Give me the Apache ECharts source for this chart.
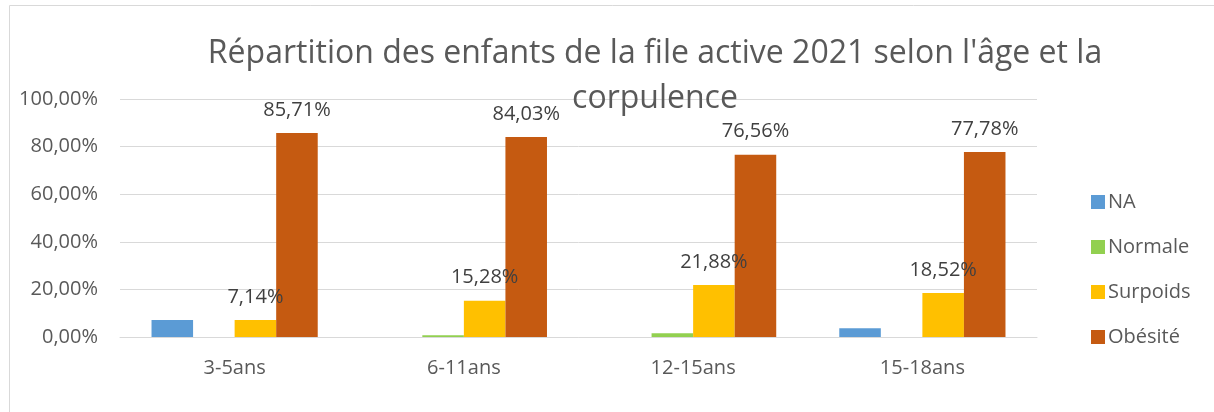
<!DOCTYPE html>
<html>
<head>
<meta charset="utf-8">
<script src="https://cdn.jsdelivr.net/npm/echarts@6/dist/echarts.min.js"></script>
<style>
  html, body { margin: 0; padding: 0; background: #fff; }
  #chart { width: 1214px; height: 412px; }
</style>
</head>
<body>
<div id="chart"></div>
<script>
  var categories = ['3-5ans', '6-11ans', '12-15ans', '15-18ans'];
  var naData = [7.14, 0, 0, 3.70];
  var normaleData = [0, 0.69, 1.56, 0];
  var surpoidsData = [7.14, 15.28, 21.88, 18.52];
  var obesiteData = [85.71, 84.03, 76.56, 77.78];
  var yTicks = [0, 20, 40, 60, 80, 100];

  var font = 'Open Sans';
  var textColor = '#595959';

  function pct(v) {
    return v.toFixed(2).replace('.', ',') + '%';
  }

  var labelStyle = {
    show: true,
    position: 'top',
    distance: 13,
    fontFamily: font,
    fontSize: 20,
    color: '#404040',
    formatter: function (p) { return pct(p.value); }
  };

  var chart = echarts.init(document.getElementById('chart'));
  chart.setOption({
    animation: false,
    title: {
      text: "Répartition des enfants de la file active 2021 selon l'âge et la\ncorpulence",
      left: 650,
      top: 26,
      textAlign: 'center',
      textStyle: {
        fontFamily: font,
        fontWeight: 'normal',
        fontSize: 32,
        lineHeight: 45,
        color: textColor
      }
    },
    graphic: [{
      type: 'rect',
      shape: { x: 9.5, y: 5.5, width: 1220, height: 420 },
      style: { fill: 'none', stroke: '#d9d9d9', lineWidth: 1 },
      silent: true
    }],
    legend: {
      orient: 'vertical',
      left: 1086,
      top: 187,
      itemWidth: 14,
      itemHeight: 14,
      itemGap: 25,
      icon: 'rect',
      textStyle: { fontFamily: font, fontSize: 20, color: textColor, padding: [0, 0, 0, -2] },
      data: ['NA', 'Normale', 'Surpoids', 'Obésité']
    },
    grid: { left: 120, right: 177, top: 99, bottom: 75 },
    xAxis: {
      type: 'category',
      data: categories,
      axisLine: { lineStyle: { color: '#d9d9d9', width: 1 } },
      axisTick: { show: false },
      axisLabel: { fontFamily: font, fontSize: 20, color: textColor, margin: 21 }
    },
    yAxis: {
      type: 'value',
      min: yTicks[0],
      max: yTicks[yTicks.length - 1],
      interval: 20,
      axisLine: { show: false },
      axisTick: { show: false },
      splitLine: { lineStyle: { color: '#d9d9d9', width: 1 } },
      axisLabel: {
        fontFamily: font, fontSize: 20, color: textColor, margin: 22,
        formatter: function (v) { return pct(v); }
      }
    },
    series: [
      { name: 'NA', type: 'bar', data: naData, barGap: '0%', barCategoryGap: '27.5%',
        itemStyle: { color: '#5B9BD5' } },
      { name: 'Normale', type: 'bar', data: normaleData,
        itemStyle: { color: '#92D050' } },
      { name: 'Surpoids', type: 'bar', data: surpoidsData, label: labelStyle,
        itemStyle: { color: '#FFC000' } },
      { name: 'Obésité', type: 'bar', data: obesiteData, label: labelStyle,
        itemStyle: { color: '#C55A11' } }
    ]
  });
</script>
</body>
</html>
